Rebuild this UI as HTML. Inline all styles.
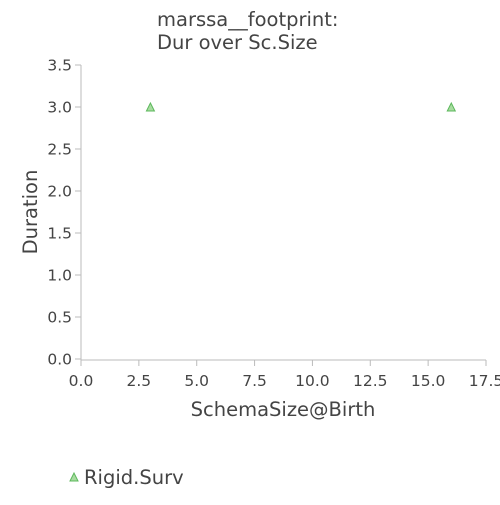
<!DOCTYPE html>
<html><head><meta charset="utf-8"><style>
body{margin:0;background:#fff}
svg text{font-family:"DejaVu Sans","Liberation Sans",sans-serif;fill:#444}
</style></head><body>
<svg width="500" height="500">
<g id="g"></g>
</svg>
<script>
const xTicks=[0,2.5,5,7.5,10,12.5,15,17.5];
const yTicks=[0,0.5,1,1.5,2,2.5,3,3.5];
const xVals=[3,16];
const yVals=[3,3];
const X0=81,X1=486,Y0=359,Y1=65;
const xs=v=>X0+(v/17.5)*(X1-X0);
const ys=v=>Y0-(v/3.5)*(Y0-Y1);
const g=document.getElementById('g');
const NS='http://www.w3.org/2000/svg';
function mk(t,a,txt){const e=document.createElementNS(NS,t);for(const k in a)e.setAttribute(k,a[k]);if(txt!==undefined)e.textContent=txt;g.appendChild(e);return e;}
let e;
e=mk('line',{x1:X0,y1:Y1,x2:X0,y2:Y0+1,stroke:'#bbb'});


e=mk('line',{x1:X0,y1:Y0+1,x2:X1,y2:Y0+1,stroke:'#bbb'});


yTicks.forEach(v=>{const y=ys(v);
e=mk('line',{x1:X0-6,y1:y,x2:X0,y2:y,stroke:'#bbb'});


e=mk('text',{x:X0-9,y:y+5.5,'text-anchor':'end','font-size':15.5},v.toFixed(1));


});
xTicks.forEach(v=>{const x=xs(v);
e=mk('line',{x1:x,y1:Y0+1,x2:x,y2:Y0+7,stroke:'#bbb'});


e=mk('text',{x:x,y:Y0+27,'text-anchor':'middle','font-size':15.5},v.toFixed(1));


});
xVals.forEach((v,i)=>{const x=xs(v),y=ys(yVals[i]);
e=mk('polygon',{points:`${x-4},${y+4} ${x+4},${y+4} ${x},${y-4}`,fill:'#a8dca0',stroke:'#5cb85c','stroke-width':1});


});
e=mk('text',{x:157,y:26,'font-size':19.5},'marssa__footprint:');


e=mk('text',{x:157,y:49,'font-size':19.5},'Dur over Sc.Size');


e=mk('text',{x:283,y:416,'text-anchor':'middle','font-size':19.5},'SchemaSize@Birth');


e=mk('text',{x:37,y:212,'text-anchor':'middle','font-size':19.5,transform:'rotate(-90 37 212)'},'Duration');


e=mk('polygon',{points:'70,481 78,481 74,473',fill:'#a8dca0',stroke:'#5cb85c'});


e=mk('text',{x:84,y:484,'font-size':19.5},'Rigid.Surv');


</script>
</body></html>
